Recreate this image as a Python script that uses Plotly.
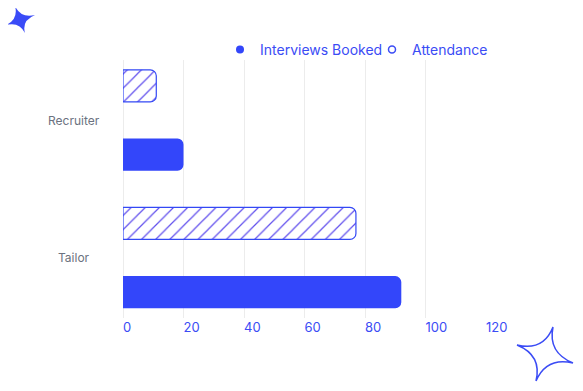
import plotly.graph_objects as go

categories = ["Tailor", "Recruiter"]
interviews_booked = [92, 20]
attendance = [77, 11]
x_ticks = [0, 20, 40, 60, 80, 100, 120]

OFF = 8  # page body margin
W, H = 583 - OFF, 391 - OFF
ML, MR, MT, MB = 123 - OFF, 97, 60 - OFF, 73
PW, PH = W - ML - MR, H - MT - MB

BLUE = "#3b4cf5"
BAR = "#3346fa"

def px(x, y):
    # page pixel -> paper coords
    return (x - OFF - ML) / PW, (H - MB - (y - OFF)) / PH

def star_path(pts, ctrl):
    cx, cy = ctrl
    s = ""
    for i, p in enumerate(pts):
        q = pts[(i + 1) % 4]
        mx, my = (p[0] + q[0]) / 2, (p[1] + q[1]) / 2
        kx, ky = cx + (mx - cx) * 0.15, cy + (my - cy) * 0.15
        a = px(*p); b = px(*q); k = px(kx, ky)
        if i == 0:
            s += f"M{a[0]},{a[1]} "
        s += f"Q{k[0]},{k[1]} {b[0]},{b[1]} "
    return s + "Z"

fig = go.Figure()
fig.add_trace(go.Bar(
    y=categories, x=interviews_booked, orientation="h", name="Interviews Booked",
    marker=dict(color=BAR, line=dict(width=0)), showlegend=False,
))
fig.add_trace(go.Bar(
    y=categories, x=attendance, orientation="h", name="Attendance",
    marker=dict(color="white", line=dict(color="#3348f5", width=1.2),
                pattern=dict(shape="/", fgcolor="#5f4ded", bgcolor="white", size=10,
                             solidity=0.12, fgopacity=1)),
    showlegend=False,
))
fig.add_trace(go.Scatter(x=[None], y=[None], mode="markers", name="Interviews Booked",
                         marker=dict(symbol="circle", size=8, color=BAR)))
fig.add_trace(go.Scatter(x=[None], y=[None], mode="markers", name="Attendance",
                         marker=dict(symbol="circle-open", size=7, color=BLUE, line=dict(width=1.5))))

annotations = []
for c in categories:
    annotations.append(dict(text=c, x=(74 - OFF - ML) / PW, xref="paper", y=c, yref="y", showarrow=False,
                            xanchor="center", yanchor="middle",
                            font=dict(family="Inter", size=12, color="#6b7280")))

shapes = [
    dict(type="path", xref="paper", yref="paper", layer="above",
         path=star_path([(15, 6), (35, 15), (25, 33), (6, 25)], (20, 20)),
         fillcolor="#3a4bf7", line=dict(width=0)),
    dict(type="path", xref="paper", yref="paper", layer="above",
         path=star_path([(553, 327), (573, 363), (536, 381), (517, 345)], (545, 354)),
         fillcolor="rgba(0,0,0,0)", line=dict(color=BLUE, width=1.5)),
]

fig.update_layout(
    width=W, height=H, margin=dict(l=ML, r=MR, t=MT, b=MB),
    paper_bgcolor="white", plot_bgcolor="white",
    barmode="group", bargap=0, bargroupgap=0.534, barcornerradius=6,
    font=dict(family="Inter", color=BLUE),
    xaxis=dict(range=[0, 120], tickvals=x_ticks, showgrid=True, gridcolor="#ececec", gridwidth=1,
               zeroline=True, zerolinecolor="#ececec", zerolinewidth=1, showline=False,
               ticklabelposition="outside right",
               tickfont=dict(family="Inter", size=13, color=BLUE), ticks="", fixedrange=True),
    yaxis=dict(type="category", categoryorder="array", categoryarray=categories,
               range=[-0.438, 1.438], showgrid=False, zeroline=False, showticklabels=False,
               ticks=""),
    legend=dict(orientation="h", x=(220 - OFF - ML) / PW, xanchor="left",
                y=(H - MB - (50 - OFF)) / PH, yanchor="middle",
                font=dict(family="Inter", size=14, color=BLUE), bgcolor="rgba(0,0,0,0)",
                itemwidth=30, entrywidthmode="pixels", entrywidth=107),
    annotations=annotations, shapes=shapes,
)

fig.write_html("out.html")
